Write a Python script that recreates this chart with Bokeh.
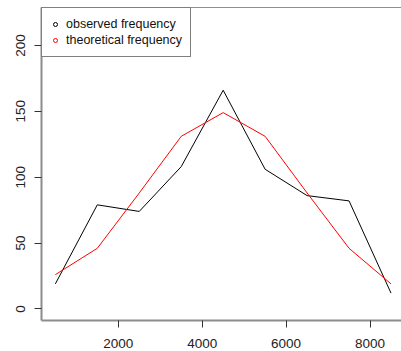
from bokeh.plotting import figure
from bokeh.models import Range1d, FixedTicker, Legend, LegendItem, Span
from bokeh.embed import file_html
from bokeh.resources import INLINE

# data
bins = [500, 1500, 2500, 3500, 4500, 5500, 6500, 7500, 8500]
observed = [19, 79, 74, 108, 166, 106, 86, 82, 12]
theoretical = [26, 46, 88, 131, 149, 131, 88, 46, 19]
x_ticks = [2000, 4000, 6000, 8000]
y_ticks = [0, 50, 100, 150, 200]
labels = ["observed frequency", "theoretical frequency"]

FONT = "Liberation Sans"
Y0, Y1 = -8.8, 228.8

p = figure(width=401, height=351, output_backend="svg", toolbar_location=None,
           x_range=Range1d(170, 8750), y_range=Range1d(Y0, Y1),
           min_border_left=41, min_border_right=0, min_border_top=7,
           min_border_bottom=31)
p.grid.visible = False
p.outline_line_color = None
p.background_fill_color = "white"
p.border_fill_color = "white"

for ax in (p.xaxis[0], p.yaxis[0]):
    ax.axis_line_color = "#8c8c8c"
    ax.axis_line_width = 2
    ax.major_tick_line_color = "#333333"
    ax.major_tick_out = 7
    ax.major_tick_in = 0
    ax.minor_tick_line_color = None
    ax.major_label_text_font = FONT
    ax.major_label_text_font_size = "13.5px"
    ax.major_label_text_color = "#222222"

p.xaxis.ticker = FixedTicker(ticks=x_ticks)
p.yaxis.ticker = FixedTicker(ticks=y_ticks)
p.xaxis.major_label_standoff = 11
p.yaxis.major_label_standoff = 9
p.yaxis.major_label_orientation = "vertical"

top = Span(location=Y1, dimension="width", line_color="#222222", line_width=1)
p.add_layout(top)

p.line(bins, observed, line_color="black", line_width=1)
p.line(bins, theoretical, line_color="red", line_width=1)

nan = float("nan")
r_obs = p.scatter([nan], [nan], marker="circle", fill_color=None, line_color="black", size=6)
r_th = p.scatter([nan], [nan], marker="circle", fill_color=None, line_color="red", size=6)

legend = Legend(items=[LegendItem(label=labels[0], renderers=[r_obs]),
                       LegendItem(label=labels[1], renderers=[r_th])],
                location="top_left", margin=0, padding=8, spacing=0,
                glyph_width=10, glyph_height=16, label_height=16,
                label_standoff=6, label_text_font=FONT,
                label_text_font_size="12.5px", label_text_color="#111111",
                border_line_color="black", border_line_width=1,
                background_fill_color="white", background_fill_alpha=1)
p.add_layout(legend, "center")

open("out.html", "w").write(file_html(p, INLINE))
